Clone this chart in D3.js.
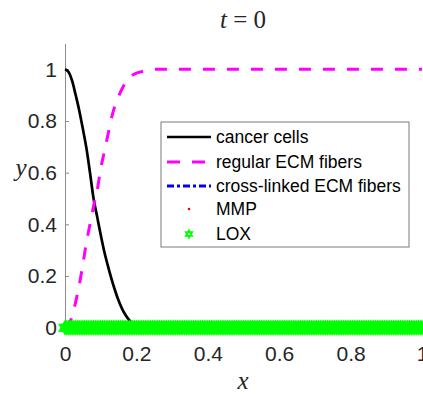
<!DOCTYPE html>
<html>
<head>
<meta charset="utf-8">
<script src="https://cdn.jsdelivr.net/npm/d3@7"></script>
<style>
  body { margin: 0; background: #fff; }
  svg { display: block; font-family: "Liberation Sans", Arial, sans-serif; }
</style>
</head>
<body>
<div id="chart"></div>
<script>
const cancerX = [0, 0.01, 0.02, 0.03, 0.04, 0.05, 0.06, 0.07, 0.08, 0.09, 0.10, 0.11, 0.12, 0.13, 0.14, 0.15, 0.16, 0.17, 0.18, 0.19, 0.20, 0.21, 1]
const cancerY = [1, 0.99, 0.955, 0.9, 0.84, 0.77, 0.695, 0.6, 0.5, 0.43, 0.36, 0.295, 0.24, 0.19, 0.145, 0.105, 0.073, 0.048, 0.029, 0.015, 0.006, 0, 0]

const ecmX = [0, 0.01, 0.02, 0.03, 0.04, 0.05, 0.06, 0.07, 0.08, 0.09, 0.10, 0.11, 0.12, 0.13, 0.14, 0.15, 0.16, 0.17, 0.18, 0.19, 0.20, 0.22, 0.25, 1]
const ecmY = [0, 0.01, 0.045, 0.1, 0.165, 0.245, 0.33, 0.40, 0.47, 0.53, 0.615, 0.68, 0.745, 0.81, 0.86, 0.895, 0.925, 0.95, 0.965, 0.978, 0.985, 0.993, 1, 1]

// spatial mesh for the species that are still zero everywhere
const meshX = d3.range(0, 1.0001, 0.005)
const crossLinkedY = meshX.map(() => 0)
const mmpY = meshX.map(() => 0)
const loxY = meshX.map(() => 0)

const xTicks = [0, 0.2, 0.4, 0.6, 0.8, 1]
const yTicks = [0, 0.2, 0.4, 0.6, 0.8, 1]
const seriesNames = ["cancer cells", "regular ECM fibers", "cross-linked ECM fibers", "MMP", "LOX"]

const W = 423, H = 396
const MARGIN = { TOP: 43.5, BOTTOM: 68.3, LEFT: 65, RIGHT: 1 }

const svg = d3.select("#chart").append("svg")
  .attr("width", W)
  .attr("height", H)

const x = d3.scaleLinear().domain([0, 1]).range([MARGIN.LEFT, W - MARGIN.RIGHT])
const y = d3.scaleLinear().domain([0, 1.1]).range([H - MARGIN.BOTTOM, MARGIN.TOP])

// axes
svg.append("g")
  .attr("transform", `translate(0, ${y(0)})`)
  .call(d3.axisBottom(x).tickValues(xTicks).tickFormat(d => d).tickSizeInner(-4).tickSizeOuter(0).tickPadding(18))
svg.append("g")
  .attr("transform", `translate(${x(0)}, 0)`)
  .call(d3.axisLeft(y).tickValues(yTicks).tickFormat(d => d).tickSizeInner(-4).tickSizeOuter(0).tickPadding(8))

svg.selectAll(".domain, .tick line").attr("stroke", "#8c8c8c")
svg.selectAll(".tick text").attr("fill", "#262626").attr("font-size", 21)
  .attr("font-family", "'Liberation Sans', Arial, sans-serif")

// titles
svg.append("text")
  .attr("x", 243).attr("y", 28)
  .attr("text-anchor", "middle")
  .attr("font-family", "'Liberation Serif', serif")
  .attr("font-size", 25)
  .attr("fill", "#262626")
  .html('<tspan font-style="italic">t</tspan> = 0')

svg.append("text")
  .attr("x", 243).attr("y", 389)
  .attr("text-anchor", "middle")
  .attr("font-family", "'Liberation Serif', serif")
  .attr("font-style", "italic")
  .attr("font-size", 25)
  .attr("fill", "#262626")
  .text("x")

svg.append("text")
  .attr("x", 21).attr("y", 176)
  .attr("text-anchor", "middle")
  .attr("font-family", "'Liberation Serif', serif")
  .attr("font-style", "italic")
  .attr("font-size", 25)
  .attr("fill", "#262626")
  .text("y")

// curves
const line = d3.line().x(d => x(d[0])).y(d => y(d[1]))
const smooth = d3.line().x(d => x(d[0])).y(d => y(d[1])).curve(d3.curveMonotoneX)

svg.append("path")
  .datum(d3.zip(cancerX, cancerY))
  .attr("d", smooth)
  .attr("fill", "none").attr("stroke", "#000").attr("stroke-width", 2.7)

svg.append("path")
  .datum(d3.zip(ecmX, ecmY))
  .attr("d", smooth)
  .attr("fill", "none").attr("stroke", "#ff00ff").attr("stroke-width", 3)
  .attr("stroke-dasharray", "12,12")

svg.append("path")
  .datum(d3.zip(meshX, crossLinkedY))
  .attr("d", line)
  .attr("fill", "none").attr("stroke", "#0000ff").attr("stroke-width", 3)
  .attr("stroke-dasharray", "7,3,3,3")

svg.append("g").selectAll("circle")
  .data(d3.zip(meshX, mmpY))
  .enter().append("circle")
  .attr("cx", d => x(d[0])).attr("cy", d => y(d[1]))
  .attr("r", 1.2).attr("fill", "#ff0000")

function hexagram(r) {
  const pt = a => [r * Math.cos(a * Math.PI / 180), r * Math.sin(a * Math.PI / 180)]
  const tri = angles => "M" + angles.map(a => pt(a).join(",")).join("L") + "Z"
  return tri([-90, 30, 150]) + tri([90, 210, 330])
}

svg.append("g").selectAll("path")
  .data(d3.zip(meshX, loxY))
  .enter().append("path")
  .attr("transform", d => `translate(${x(d[0])}, ${y(d[1])})`)
  .attr("d", hexagram(5.5))
  .attr("fill", "none").attr("stroke", "#00ff00").attr("stroke-width", 2.6)

// legend
const legend = svg.append("g").attr("transform", "translate(161, 122)")
legend.append("rect")
  .attr("width", 248).attr("height", 125)
  .attr("fill", "#fff").attr("stroke", "#7a7a7a").attr("stroke-width", 1)

const rowY = [15, 40, 64, 87, 112]
const sample = legend.selectAll("g.item")
  .data(seriesNames)
  .enter().append("g")
  .attr("class", "item")
  .attr("transform", (d, i) => `translate(0, ${rowY[i]})`)

sample.append("text")
  .attr("x", 55).attr("dy", "0.35em")
  .attr("font-size", 17.5)
  .attr("fill", "#000")
  .text(d => d)

const s0 = sample.filter((d, i) => i === 0)
s0.append("line").attr("x1", 6).attr("x2", 50).attr("stroke", "#000").attr("stroke-width", 2.7)
const s1 = sample.filter((d, i) => i === 1)
s1.append("line").attr("x1", 6).attr("x2", 50).attr("stroke", "#ff00ff").attr("stroke-width", 3)
  .attr("stroke-dasharray", "13,12")
const s2 = sample.filter((d, i) => i === 2)
s2.append("line").attr("x1", 6).attr("x2", 50).attr("stroke", "#0000ff").attr("stroke-width", 3)
  .attr("stroke-dasharray", "7,3,3,3")
const s3 = sample.filter((d, i) => i === 3)
s3.append("circle").attr("cx", 28).attr("r", 1.3).attr("fill", "#ff0000")
const s4 = sample.filter((d, i) => i === 4)
s4.append("path").attr("transform", "translate(28, 0)").attr("d", hexagram(3.6))
  .attr("fill", "none").attr("stroke", "#00ff00").attr("stroke-width", 1.8)
</script>
</body>
</html>
